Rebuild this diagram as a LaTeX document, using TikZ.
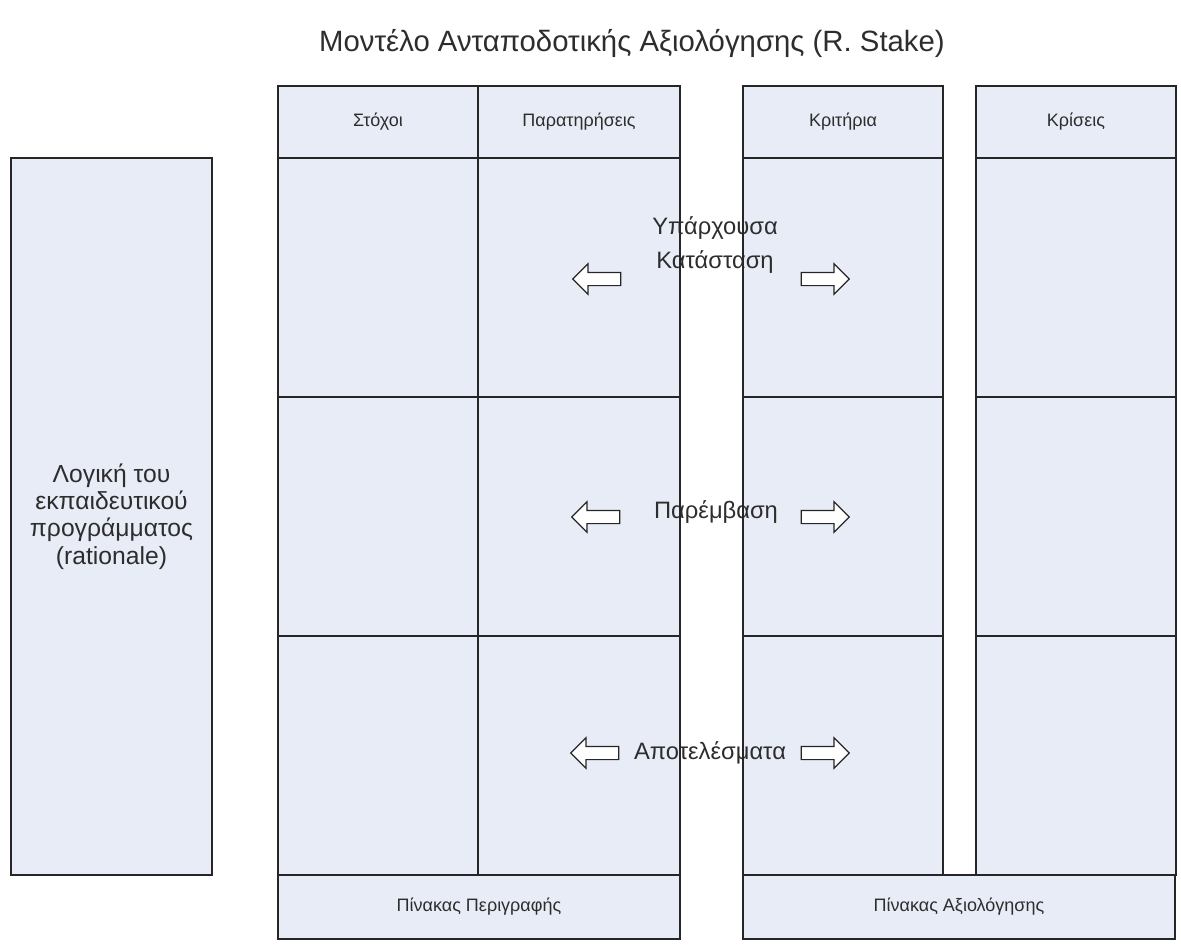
\documentclass[tikz,border=0pt]{standalone}
\usepackage{fontspec}
\setmainfont{Liberation Sans}
\usetikzlibrary{positioning, shapes.arrows}
\definecolor{cellblue}{RGB}{232,236,246}
\definecolor{edgegray}{RGB}{38,38,38}
\definecolor{inkgray}{RGB}{45,45,45}

\begin{document}
\begin{tikzpicture}[x=0.75pt,y=-0.75pt,text=inkgray,
  cell/.style={rectangle,draw=edgegray,fill=cellblue,line width=1.2pt,
    outer sep=0pt,inner sep=0pt,minimum width=150pt},
  head cell/.style={cell,minimum height=54pt,font=\fontsize{13.5}{16}\selectfont},
  body cell/.style={cell,minimum height=179.25pt},
  foot cell/.style={cell,minimum height=48pt,font=\fontsize{13.5}{16}\selectfont},
  phase label/.style={font=\fontsize{17.8}{25.5}\selectfont,align=center,inner sep=0pt},
  block arrow/.style={single arrow,draw=edgegray,fill=white,line width=0.9pt,
    minimum height=36pt,inner xsep=0pt,inner ysep=4.5pt,single arrow head extend=6.5pt}]

  \useasboundingbox (0,0) rectangle (1181,947);

  \node[font=\fontsize{22}{26}\selectfont] (title) at (632,43)
    {Μοντέλο Ανταποδοτικής Αξιολόγησης (R. Stake)};

  % rationale
  \node[cell, minimum width=150.75pt, minimum height=537.75pt, align=center,
    font=\fontsize{18.5}{20.6}\selectfont, anchor=north west] (logic) at (11,158)
    {Λογική του\\εκπαιδευτικού\\προγράμματος\\(rationale)};

  % descriptive matrix
  \node[head cell, anchor=north west] (s0) at (278,86) {Στόχοι};
  \node[head cell, right=0pt of s0, minimum width=151.5pt] (p0) {Παρατηρήσεις};
  \node[body cell, below=0pt of s0] (s1) {};
  \node[body cell, below=0pt of s1] (s2) {};
  \node[body cell, below=0pt of s2] (s3) {};
  \node[body cell, below=0pt of p0, minimum width=151.5pt] (p1) {};
  \node[body cell, below=0pt of p1, minimum width=151.5pt] (p2) {};
  \node[body cell, below=0pt of p2, minimum width=151.5pt] (p3) {};
  \node[foot cell, minimum width=301.5pt, anchor=north west] (pd) at (s3.south west)
    {Πίνακας Περιγραφής};

  % judgement matrix
  \node[head cell, anchor=north west] (k0) at (743,86) {Κριτήρια};
  \node[head cell, anchor=north west] (j0) at (976,86) {Κρίσεις};
  \node[body cell, below=0pt of k0] (k1) {};
  \node[body cell, below=0pt of k1] (k2) {};
  \node[body cell, below=0pt of k2] (k3) {};
  \node[body cell, below=0pt of j0] (j1) {};
  \node[body cell, below=0pt of j1] (j2) {};
  \node[body cell, below=0pt of j2] (j3) {};
  \node[foot cell, minimum width=324pt, anchor=north west] (pa) at (k3.south west)
    {Πίνακας Αξιολόγησης};

  \node[phase label] (state) at (715,245) {Υπάρχουσα\\Κατάσταση};
  \node[phase label] (trans) at (716,512) {Παρέμβαση};
  \node[phase label] (outc) at (710,753) {Αποτελέσματα};

  \node[block arrow, shape border rotate=180] (sl) at (600,279) {};
  \node[block arrow] (sr) at (822,279) {};
  \node[block arrow, shape border rotate=180] (tl) at (599,517) {};
  \node[block arrow] (tr) at (822,517) {};
  \node[block arrow, shape border rotate=180] (ol) at (598,753) {};
  \node[block arrow] (or) at (822,753) {};

  \draw[draw=edgegray, line width=1.2pt] (p1.north east) -- (p3.south east);
  \draw[draw=edgegray, line width=1.2pt] (k1.north west) -- (k3.south west);
\end{tikzpicture}
\end{document}
